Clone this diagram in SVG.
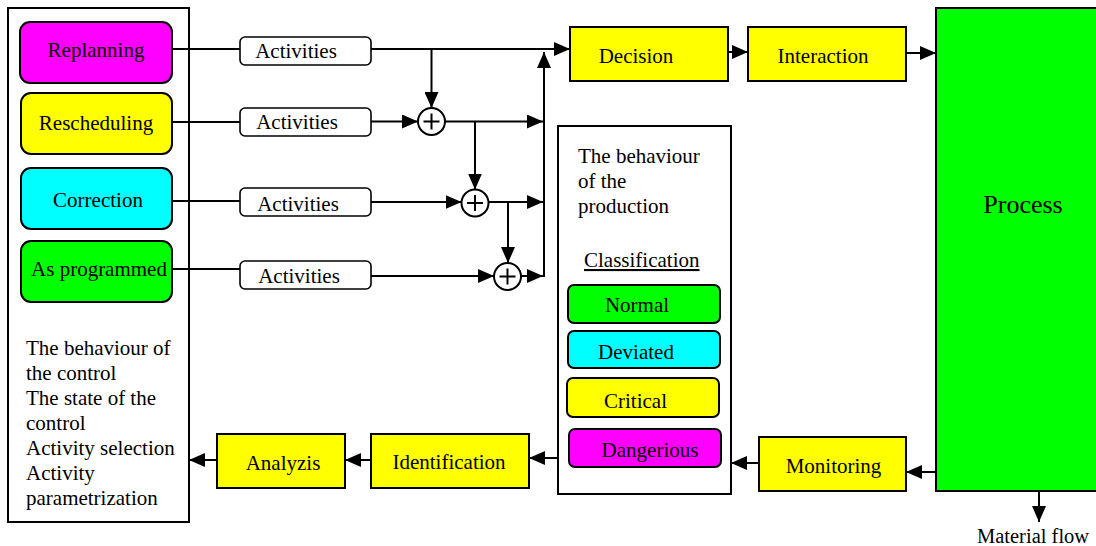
<svg xmlns="http://www.w3.org/2000/svg" width="1096" height="546" viewBox="0 0 1096 546">
<style>
text{font-family:"Liberation Serif","Times New Roman",serif;font-size:21px;fill:#000}
.box{stroke:#000;stroke-width:2}
.act{fill:#fff;stroke:#000;stroke-width:1.6}
.c{fill:none;stroke:#000;stroke-width:2}
.m{text-anchor:middle}
</style>
<defs>
<marker id="ah" markerUnits="userSpaceOnUse" markerWidth="16" markerHeight="14" refX="16" refY="7" orient="auto">
<path d="M0,0 L16,7 L0,14 z" fill="#000"/>
</marker>
</defs>
<rect width="1096" height="546" fill="#fff"/>
<g id="controlBox">
<rect x="8" y="8" width="181" height="514" fill="#fff" class="box"/>
<text x="26" y="355">The behaviour of</text>
<text x="26" y="380">the control</text>
<text x="26" y="405">The state of the</text>
<text x="26" y="430">control</text>
<text x="26" y="455">Activity selection</text>
<text x="26" y="480">Activity</text>
<text x="26" y="505">parametrization</text>
</g>
<g id="replanning"><rect x="20" y="22" width="152" height="61" rx="10" fill="#ff00ff" class="box"/><text x="96" y="57" class="m">Replanning</text></g>
<g id="rescheduling"><rect x="21" y="93" width="151" height="61" rx="10" fill="#ffff00" class="box"/><text x="96" y="130" class="m">Rescheduling</text></g>
<g id="correction"><rect x="21" y="168" width="151" height="61" rx="10" fill="#00ffff" class="box"/><text x="98" y="207" class="m">Correction</text></g>
<g id="asProgrammed"><rect x="21" y="241" width="151" height="61" rx="10" fill="#00ff00" class="box"/><text x="99" y="276" class="m">As programmed</text></g>
<g id="activities1"><rect x="240" y="37" width="131" height="28" rx="5" class="act"/><text x="296" y="58" class="m">Activities</text></g>
<g id="activities2"><rect x="240" y="108" width="131" height="28" rx="5" class="act"/><text x="297" y="129" class="m">Activities</text></g>
<g id="activities3"><rect x="240" y="188" width="131" height="28" rx="5" class="act"/><text x="298" y="211" class="m">Activities</text></g>
<g id="activities4"><rect x="240" y="261" width="131" height="28" rx="5" class="act"/><text x="299" y="283" class="m">Activities</text></g>
<g id="sum1"><circle cx="431.5" cy="121.5" r="13.5" fill="#fff" class="c"/><path d="M423.5,121.5 H439.5 M431.5,113.5 V129.5" class="c"/></g>
<g id="sum2"><circle cx="475" cy="203" r="13.5" fill="#fff" class="c"/><path d="M467,203 H483 M475,195 V211" class="c"/></g>
<g id="sum3"><circle cx="507.5" cy="276.5" r="13.5" fill="#fff" class="c"/><path d="M499.5,276.5 H515.5 M507.5,268.5 V284.5" class="c"/></g>
<g id="decision"><rect x="570" y="27" width="158" height="54" fill="#ffff00" class="box"/><text x="636" y="63" class="m">Decision</text></g>
<g id="interaction"><rect x="748" y="27" width="158" height="54" fill="#ffff00" class="box"/><text x="823" y="63" class="m">Interaction</text></g>
<g id="process"><rect x="936" y="8" width="170" height="483" fill="#00ff00" class="box"/><text x="1023" y="213" class="m" style="font-size:26px">Process</text></g>
<g id="production">
<rect x="558" y="126" width="173" height="368" fill="#fff" class="box"/>
<text x="578" y="163">The behaviour</text>
<text x="578" y="188">of the</text>
<text x="578" y="213">production</text>
<text x="584" y="267" text-decoration="underline">Classification</text>
</g>
<g id="normal"><rect x="568" y="285" width="152" height="38" rx="6" fill="#00ff00" class="box"/><text x="637" y="312" class="m">Normal</text></g>
<g id="deviated"><rect x="568" y="331" width="152" height="37" rx="6" fill="#00ffff" class="box"/><text x="636" y="359" class="m">Deviated</text></g>
<g id="critical"><rect x="567" y="378" width="152" height="39" rx="6" fill="#ffff00" class="box"/><text x="635.5" y="408" class="m">Critical</text></g>
<g id="dangerious"><rect x="569" y="429" width="152" height="38" rx="6" fill="#ff00ff" class="box"/><text x="650" y="457" class="m">Dangerious</text></g>
<g id="monitoring"><rect x="759" y="437" width="147" height="54" fill="#ffff00" class="box"/><text x="833.5" y="473" class="m">Monitoring</text></g>
<g id="identification"><rect x="371" y="434" width="158" height="54" fill="#ffff00" class="box"/><text x="449" y="469" class="m">Identification</text></g>
<g id="analyzis"><rect x="217" y="434" width="128" height="54" fill="#ffff00" class="box"/><text x="283" y="470" class="m">Analyzis</text></g>
<g id="materialFlowLabel"><text x="977" y="543" style="font-size:20.5px">Material flow</text></g>
<g id="connectors" fill="none" stroke="#000" stroke-width="2">
<path d="M172,49 H240"/>
<path d="M371,49 H570" marker-end="url(#ah)"/>
<path d="M431.5,49 V108" marker-end="url(#ah)"/>
<path d="M172,122 H240"/>
<path d="M371,121.5 H418" marker-end="url(#ah)"/>
<path d="M445,121.5 H543" marker-end="url(#ah)"/>
<path d="M475,121.5 V189.5" marker-end="url(#ah)"/>
<path d="M172,201 H240"/>
<path d="M371,202 H461.5" marker-end="url(#ah)"/>
<path d="M488.5,202 H543" marker-end="url(#ah)"/>
<path d="M508,202 V263" marker-end="url(#ah)"/>
<path d="M172,269 H240"/>
<path d="M371,276 H494" marker-end="url(#ah)"/>
<path d="M521,276 H543" marker-end="url(#ah)"/>
<path d="M544,277 V52" marker-end="url(#ah)"/>
<path d="M728,52 H748" marker-end="url(#ah)"/>
<path d="M906,53 H936" marker-end="url(#ah)"/>
<path d="M936,472 H906" marker-end="url(#ah)"/>
<path d="M759,463 H731" marker-end="url(#ah)"/>
<path d="M558,458 H529" marker-end="url(#ah)"/>
<path d="M371,460 H345" marker-end="url(#ah)"/>
<path d="M217,460 H189" marker-end="url(#ah)"/>
<path d="M1039,491 V522" marker-end="url(#ah)"/>
</g>
</svg>
